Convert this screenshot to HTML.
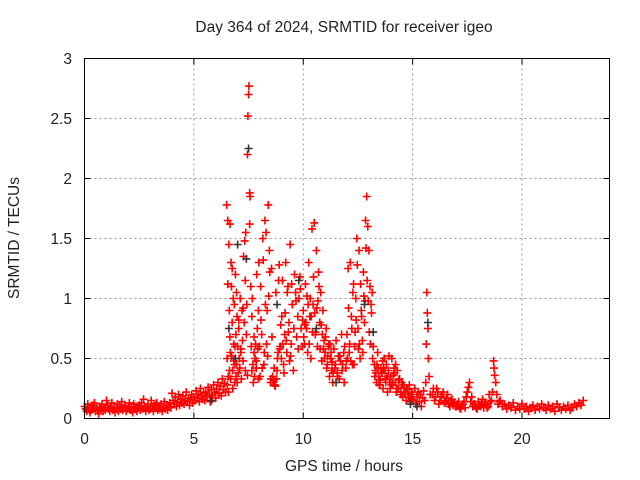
<!DOCTYPE html>
<html><head><meta charset="utf-8"><style>
html,body{margin:0;padding:0;background:#fff;width:640px;height:480px;overflow:hidden}
svg text{font-family:"Liberation Sans",sans-serif;fill:#222}
</style></head><body>
<svg id="chart" width="640" height="480" viewBox="0 0 640 480" xmlns="http://www.w3.org/2000/svg">
<text x="344" y="32" font-size="15.5" text-anchor="middle">Day 364 of 2024, SRMTID for receiver igeo</text>
<text x="344" y="471" font-size="15.5" text-anchor="middle">GPS time / hours</text>
<text x="0" y="0" font-size="15.5" text-anchor="middle" transform="translate(19,238) rotate(-90)">SRMTID / TECUs</text>
<g id="grid"></g><g id="ticks"></g><g id="marks"></g>
<rect x="84.5" y="58.5" width="525" height="360" fill="none" stroke="#000" stroke-width="1"/>
</svg>
<script>
const xTicks=[0,5,10,15,20];
const yTicks=[0,0.5,1,1.5,2,2.5,3];
const yTickLabels=["0","0.5","1","1.5","2","2.5","3"];
const hours=[
0,0.05,0.1,0.15,0.2,0.25,0.3,0.35,0.4,0.45,0.5,0.55,0.6,0.65,0.7,0.75,0.8,0.85,0.9,0.95,
1,1.05,1.1,1.15,1.2,1.25,1.3,1.35,1.4,1.45,1.5,1.55,1.6,1.65,1.7,1.75,1.8,1.85,1.9,1.95,
2,2.05,2.1,2.15,2.2,2.25,2.3,2.35,2.4,2.45,2.5,2.55,2.6,2.65,2.7,2.75,2.8,2.85,2.9,2.95,
3,3.05,3.1,3.15,3.2,3.25,3.3,3.35,3.4,3.45,3.5,3.55,3.6,3.65,3.7,3.75,3.8,3.85,3.9,3.95,
4,4.05,4.1,4.15,4.2,4.25,4.3,4.35,4.4,4.45,4.5,4.55,4.6,4.65,4.7,4.75,4.8,4.85,4.9,4.95,
5,5.05,5.1,5.15,5.2,5.25,5.3,5.35,5.4,5.45,
5.5,5.55,5.6,5.65,5.7,5.75,5.8,5.85,5.9,5.95,6,6.05,6.1,6.15,6.2,6.25,6.3,6.35,6.4,6.45,
6.50,6.52,6.55,6.57,6.60,6.62,6.65,6.67,6.70,6.72,6.75,6.77,6.80,6.82,6.85,6.87,6.90,6.92,6.95,6.97,
7.00,7.02,7.05,7.07,7.10,7.12,7.15,7.17,7.20,7.22,7.25,7.27,7.30,7.32,7.35,7.37,7.40,7.42,7.45,7.47,
7.50,7.52,7.55,7.57,7.60,7.62,7.65,7.67,7.70,7.72,7.75,7.77,7.80,7.82,7.85,7.87,7.90,7.92,7.95,7.97,
6.53,6.58,6.63,6.68,6.73,6.78,6.83,6.88,6.93,6.98,
8.00,8.05,8.10,8.15,8.20,8.25,8.30,8.35,8.40,8.45,8.50,8.55,8.60,8.65,8.70,8.75,8.80,8.85,8.90,8.95,
9.00,9.05,9.10,9.15,9.20,9.25,9.30,9.35,9.40,9.45,9.50,9.55,9.60,9.65,9.70,9.75,9.80,9.85,9.90,9.95,
8.02,8.12,8.22,8.32,8.42,8.52,8.62,8.72,8.82,8.92,9.02,9.12,9.22,9.32,9.42,
10.00,10.05,10.10,10.15,10.20,10.25,10.30,10.35,10.40,10.45,10.50,10.55,10.60,10.65,10.70,10.75,10.80,10.85,10.90,10.95,
11.00,11.05,11.10,11.15,11.20,11.25,11.30,11.35,11.40,11.45,11.50,11.55,11.60,11.65,11.70,11.75,11.80,11.85,11.90,11.95,
10.02,10.12,10.22,10.32,10.42,10.52,10.62,10.72,10.82,10.92,11.02,11.12,11.22,11.32,
12.00,12.05,12.10,12.15,12.20,12.25,12.30,12.35,12.40,12.45,12.50,12.55,12.60,12.65,12.70,12.75,12.80,12.85,12.90,12.95,
13.00,13.05,13.10,13.15,13.20,13.25,13.30,13.35,13.40,13.45,13.50,13.55,13.60,13.65,13.70,13.75,13.80,13.85,13.90,13.95,
12.02,12.12,12.22,12.32,12.42,12.52,12.62,12.72,12.82,12.92,13.02,13.12,
14.00,14.05,14.10,14.15,14.20,14.25,14.30,14.35,14.40,14.45,14.50,14.55,14.60,14.65,14.70,14.75,14.80,14.85,14.90,14.95,
15.00,15.05,15.10,15.15,15.20,15.25,15.30,15.35,15.40,15.45,15.50,15.55,15.60,15.62,15.65,15.67,15.70,15.72,15.75,15.80,
13.32,13.42,13.52,13.62,13.72,13.82,13.92,14.02,14.12,14.22,
15.9,16.0,16.1,16.2,16.3,16.4,16.5,16.6,16.7,16.8,16.9,
17.0,17.1,17.2,17.3,17.4,17.5,17.6,17.7,17.8,17.9,
18.0,18.1,18.2,18.3,18.4,18.5,18.6,18.7,18.8,18.9,
19.0,19.1,19.2,19.3,19.4,19.5,19.6,19.7,19.8,19.9,
20.0,20.1,20.2,20.3,20.4,20.5,20.6,20.7,20.8,20.9,
21.0,21.1,21.2,21.3,21.4,21.5,21.6,21.7,21.8,21.9,
22.0,22.1,22.2,22.3,22.4,22.5,22.6,22.7,22.8,
6.55,6.65,6.75,6.85,6.95,7.05,7.15,7.25,7.35,7.45,7.55,7.65,7.75,7.85,7.95,
8.07,8.17,8.27,8.37,8.47,8.57,8.67,8.77,8.87,8.97,9.07,9.17,9.27,9.37,9.47,9.57,9.67,9.77,9.87,9.97,
10.07,10.17,10.27,10.37,10.47,10.57,10.67,10.77,10.87,10.97,11.07,11.17,11.27,11.37,11.47,11.57,11.67,11.77,11.87,11.97,
12.07,12.17,12.27,12.37,12.47,12.57,12.67,12.77,12.87,12.97,13.07,13.17,13.27,13.37,13.47,13.57,13.67,13.77,13.87,13.97,
14.07,14.17,14.27,14.37,14.47,14.57,14.67,14.77,14.87,14.97,
15.95,16.05,16.15,16.25,16.35,16.45,16.55,16.65,16.75,16.85,16.95,17.05,17.15,17.25,17.35,17.45,17.55,17.65,17.75,17.85,17.95,
18.05,18.15,18.25,18.35,18.45,18.55,18.65,18.72,18.75,18.85,18.95];
const srmtid=[
0.10,0.08,0.06,0.12,0.09,0.05,0.07,0.11,0.08,0.13,0.06,0.09,0.07,0.04,0.10,0.08,0.12,0.06,0.09,0.07,
0.15,0.11,0.08,0.06,0.10,0.13,0.07,0.09,0.05,0.08,0.12,0.06,0.10,0.08,0.14,0.07,0.09,0.11,0.06,0.08,
0.10,0.13,0.07,0.09,0.05,0.12,0.08,0.10,0.06,0.09,0.11,0.07,0.13,0.08,0.16,0.10,0.06,0.09,0.12,0.07,
0.08,0.15,0.10,0.06,0.11,0.09,0.13,0.07,0.10,0.08,0.12,0.06,0.09,0.14,0.08,0.11,0.07,0.10,0.13,0.09,
0.21,0.15,0.12,0.18,0.10,0.14,0.20,0.11,0.16,0.13,0.19,0.12,0.15,0.22,0.14,0.17,0.11,0.16,0.20,0.13,
0.18,0.15,0.23,0.17,0.20,0.14,0.25,0.19,0.16,0.21,
0.15,0.22,0.18,0.26,0.20,0.14,0.24,0.19,0.28,0.22,0.17,0.25,0.30,0.21,0.27,0.19,0.33,0.24,0.29,0.22,
1.78,0.50,1.65,0.35,1.45,0.90,1.62,0.55,1.30,1.10,0.80,0.40,1.00,0.62,0.95,0.30,1.20,0.70,0.45,0.85,
0.60,0.38,0.75,0.50,0.42,1.00,0.55,0.33,0.90,0.65,0.48,1.35,0.80,1.48,0.40,1.55,0.70,0.95,2.20,2.52,
2.70,2.77,1.88,1.85,1.10,0.60,0.40,1.00,0.45,0.30,0.55,0.35,0.50,0.62,0.42,1.20,0.75,0.58,0.33,1.30,
0.28,0.22,0.40,0.33,0.52,0.25,0.48,0.60,0.35,0.30,
0.60,1.10,0.70,1.50,0.45,1.65,1.55,0.90,1.78,1.40,0.30,1.25,0.35,0.32,0.28,1.05,0.40,0.55,1.28,0.60,
0.50,1.15,0.45,0.70,1.30,0.55,1.10,0.80,1.45,0.62,0.95,0.40,1.20,1.05,0.68,0.85,1.00,1.18,0.75,0.60,
0.35,0.42,0.55,0.62,1.02,0.33,0.30,0.27,0.50,0.58,0.85,0.38,0.65,0.72,0.52,
0.90,0.62,1.12,0.75,0.55,1.30,0.85,0.50,1.58,0.95,1.63,0.70,1.40,0.60,1.22,0.80,1.05,0.48,0.90,0.65,
0.55,0.75,0.45,0.60,0.35,0.50,0.40,0.30,0.58,0.42,0.65,0.38,0.52,0.33,0.48,0.70,0.45,0.55,0.60,0.42,
0.68,0.80,0.95,1.00,0.72,0.88,0.92,1.10,0.78,0.58,0.68,0.52,0.62,0.47,
0.70,1.25,0.55,1.30,0.85,0.45,1.12,0.60,1.00,1.50,0.75,1.40,0.50,0.90,0.65,1.22,0.80,1.65,1.85,1.60,
1.40,1.10,0.95,1.05,0.60,0.45,0.40,0.30,0.55,0.35,0.28,0.42,0.38,0.25,0.50,0.33,0.45,0.22,0.40,0.30,
0.50,0.62,0.75,0.45,0.82,0.58,1.12,0.55,0.98,1.15,0.72,0.88,
0.35,0.50,0.28,0.42,0.30,0.22,0.40,0.25,0.33,0.20,0.30,0.18,0.26,0.22,0.15,0.25,0.18,0.28,0.14,0.22,
0.20,0.15,0.25,0.12,0.18,0.22,0.14,0.20,0.10,0.17,0.23,0.15,0.30,0.62,1.05,0.88,0.75,0.50,0.35,0.20,
0.38,0.42,0.32,0.48,0.40,0.35,0.52,0.28,0.36,0.45,
0.20,0.15,0.25,0.12,0.18,0.22,0.14,0.20,0.10,0.16,0.13,
0.10,0.14,0.08,0.12,0.09,0.22,0.30,0.18,0.12,0.09,
0.14,0.10,0.16,0.12,0.09,0.20,0.15,0.48,0.30,0.12,
0.15,0.10,0.12,0.08,0.11,0.09,0.13,0.07,0.10,0.08,
0.12,0.08,0.10,0.06,0.09,0.11,0.07,0.10,0.08,0.12,
0.09,0.07,0.11,0.08,0.10,0.06,0.12,0.09,0.07,0.10,
0.08,0.11,0.07,0.09,0.12,0.10,0.13,0.11,0.15,
1.12,0.68,1.25,0.45,1.05,0.82,0.58,0.92,1.15,0.36,1.62,0.85,0.68,0.48,0.90,
0.82,1.32,0.95,0.52,1.22,0.68,0.42,0.33,1.15,0.78,0.62,0.88,1.05,0.48,1.12,0.75,0.98,0.58,1.08,0.82,
0.78,1.02,0.62,0.85,1.18,0.72,0.98,0.58,0.70,0.50,0.42,0.62,0.55,0.38,0.45,0.35,0.52,0.40,0.30,0.48,
0.92,0.48,1.05,0.72,1.28,0.62,0.85,1.02,1.42,0.98,0.62,0.50,0.35,0.45,0.28,0.38,0.42,0.30,0.35,0.25,
0.30,0.38,0.25,0.32,0.22,0.28,0.20,0.24,0.18,0.16,
0.25,0.18,0.22,0.15,0.20,0.13,0.17,0.12,0.15,0.11,0.10,0.12,0.09,0.11,0.14,0.18,0.26,0.14,0.10,0.12,0.08,
0.11,0.13,0.09,0.12,0.10,0.14,0.22,0.42,0.36,0.20,0.14];
const hoursRef=[7.5,7.4,6.6,7.0,9.8,10.6,12.8,15.7,14.9,15.2,8.8,11.5,13.2,6.9,5.8];
const srmtidRef=[2.25,1.33,0.75,1.45,1.15,0.75,0.95,0.8,0.12,0.10,0.95,0.30,0.72,0.50,0.15];

const NS="http://www.w3.org/2000/svg";
const L=84.5,R=609.5,T=58.5,B=418.5,XMAX=24,YMAX=3;
function xs(h){return L+(h/XMAX)*(R-L);}
function ys(v){return B-(v/YMAX)*(B-T);}
const grid=document.getElementById('grid'),ticks=document.getElementById('ticks'),marks=document.getElementById('marks');
function mk(tag,attrs,parent){const e=document.createElementNS(NS,tag);for(const k in attrs)e.setAttribute(k,attrs[k]);parent.appendChild(e);return e;}
xTicks.forEach(t=>{
  const x=xs(t);
  if(t>0){const g=mk('line',{x1:x,x2:x,y1:T,y2:B,stroke:'#999','stroke-dasharray':'2,3'},grid);
  
  }
  const tk=mk('path',{d:`M${x},${B}v-6M${x},${T}v6`,stroke:'#000'},ticks);
  
  
  const lb=mk('text',{x:x,y:444,'font-size':15.5,'text-anchor':'middle'},ticks);lb.textContent=String(t);
  
  
});
yTicks.forEach((v,i)=>{
  const y=ys(v);
  if(v>0&&v<YMAX){const g=mk('line',{x1:L,x2:R,y1:y,y2:y,stroke:'#999','stroke-dasharray':'2,3'},grid);
  
  }
  const tk=mk('path',{d:`M${L},${y}h6M${R},${y}h-6`,stroke:'#000'},ticks);
  
  
  const lb=mk('text',{x:72,y:y+5.5,'font-size':15.5,'text-anchor':'end'},ticks);lb.textContent=yTickLabels[i];
  
  
});
function cross(h,v,color,name){
  const x=xs(h),y=ys(v);
  const p=mk('path',{d:`M${x-4},${y}h8M${x},${y-4}v8`,stroke:color,'stroke-width':1.6},marks);
  
  
}
hours.forEach((h,i)=>cross(h,srmtid[i],'#ff0000','srmtid-point'));
hoursRef.forEach((h,i)=>cross(h,srmtidRef[i],'#333333','srmtid-ref-point'));
</script>
</body></html>
